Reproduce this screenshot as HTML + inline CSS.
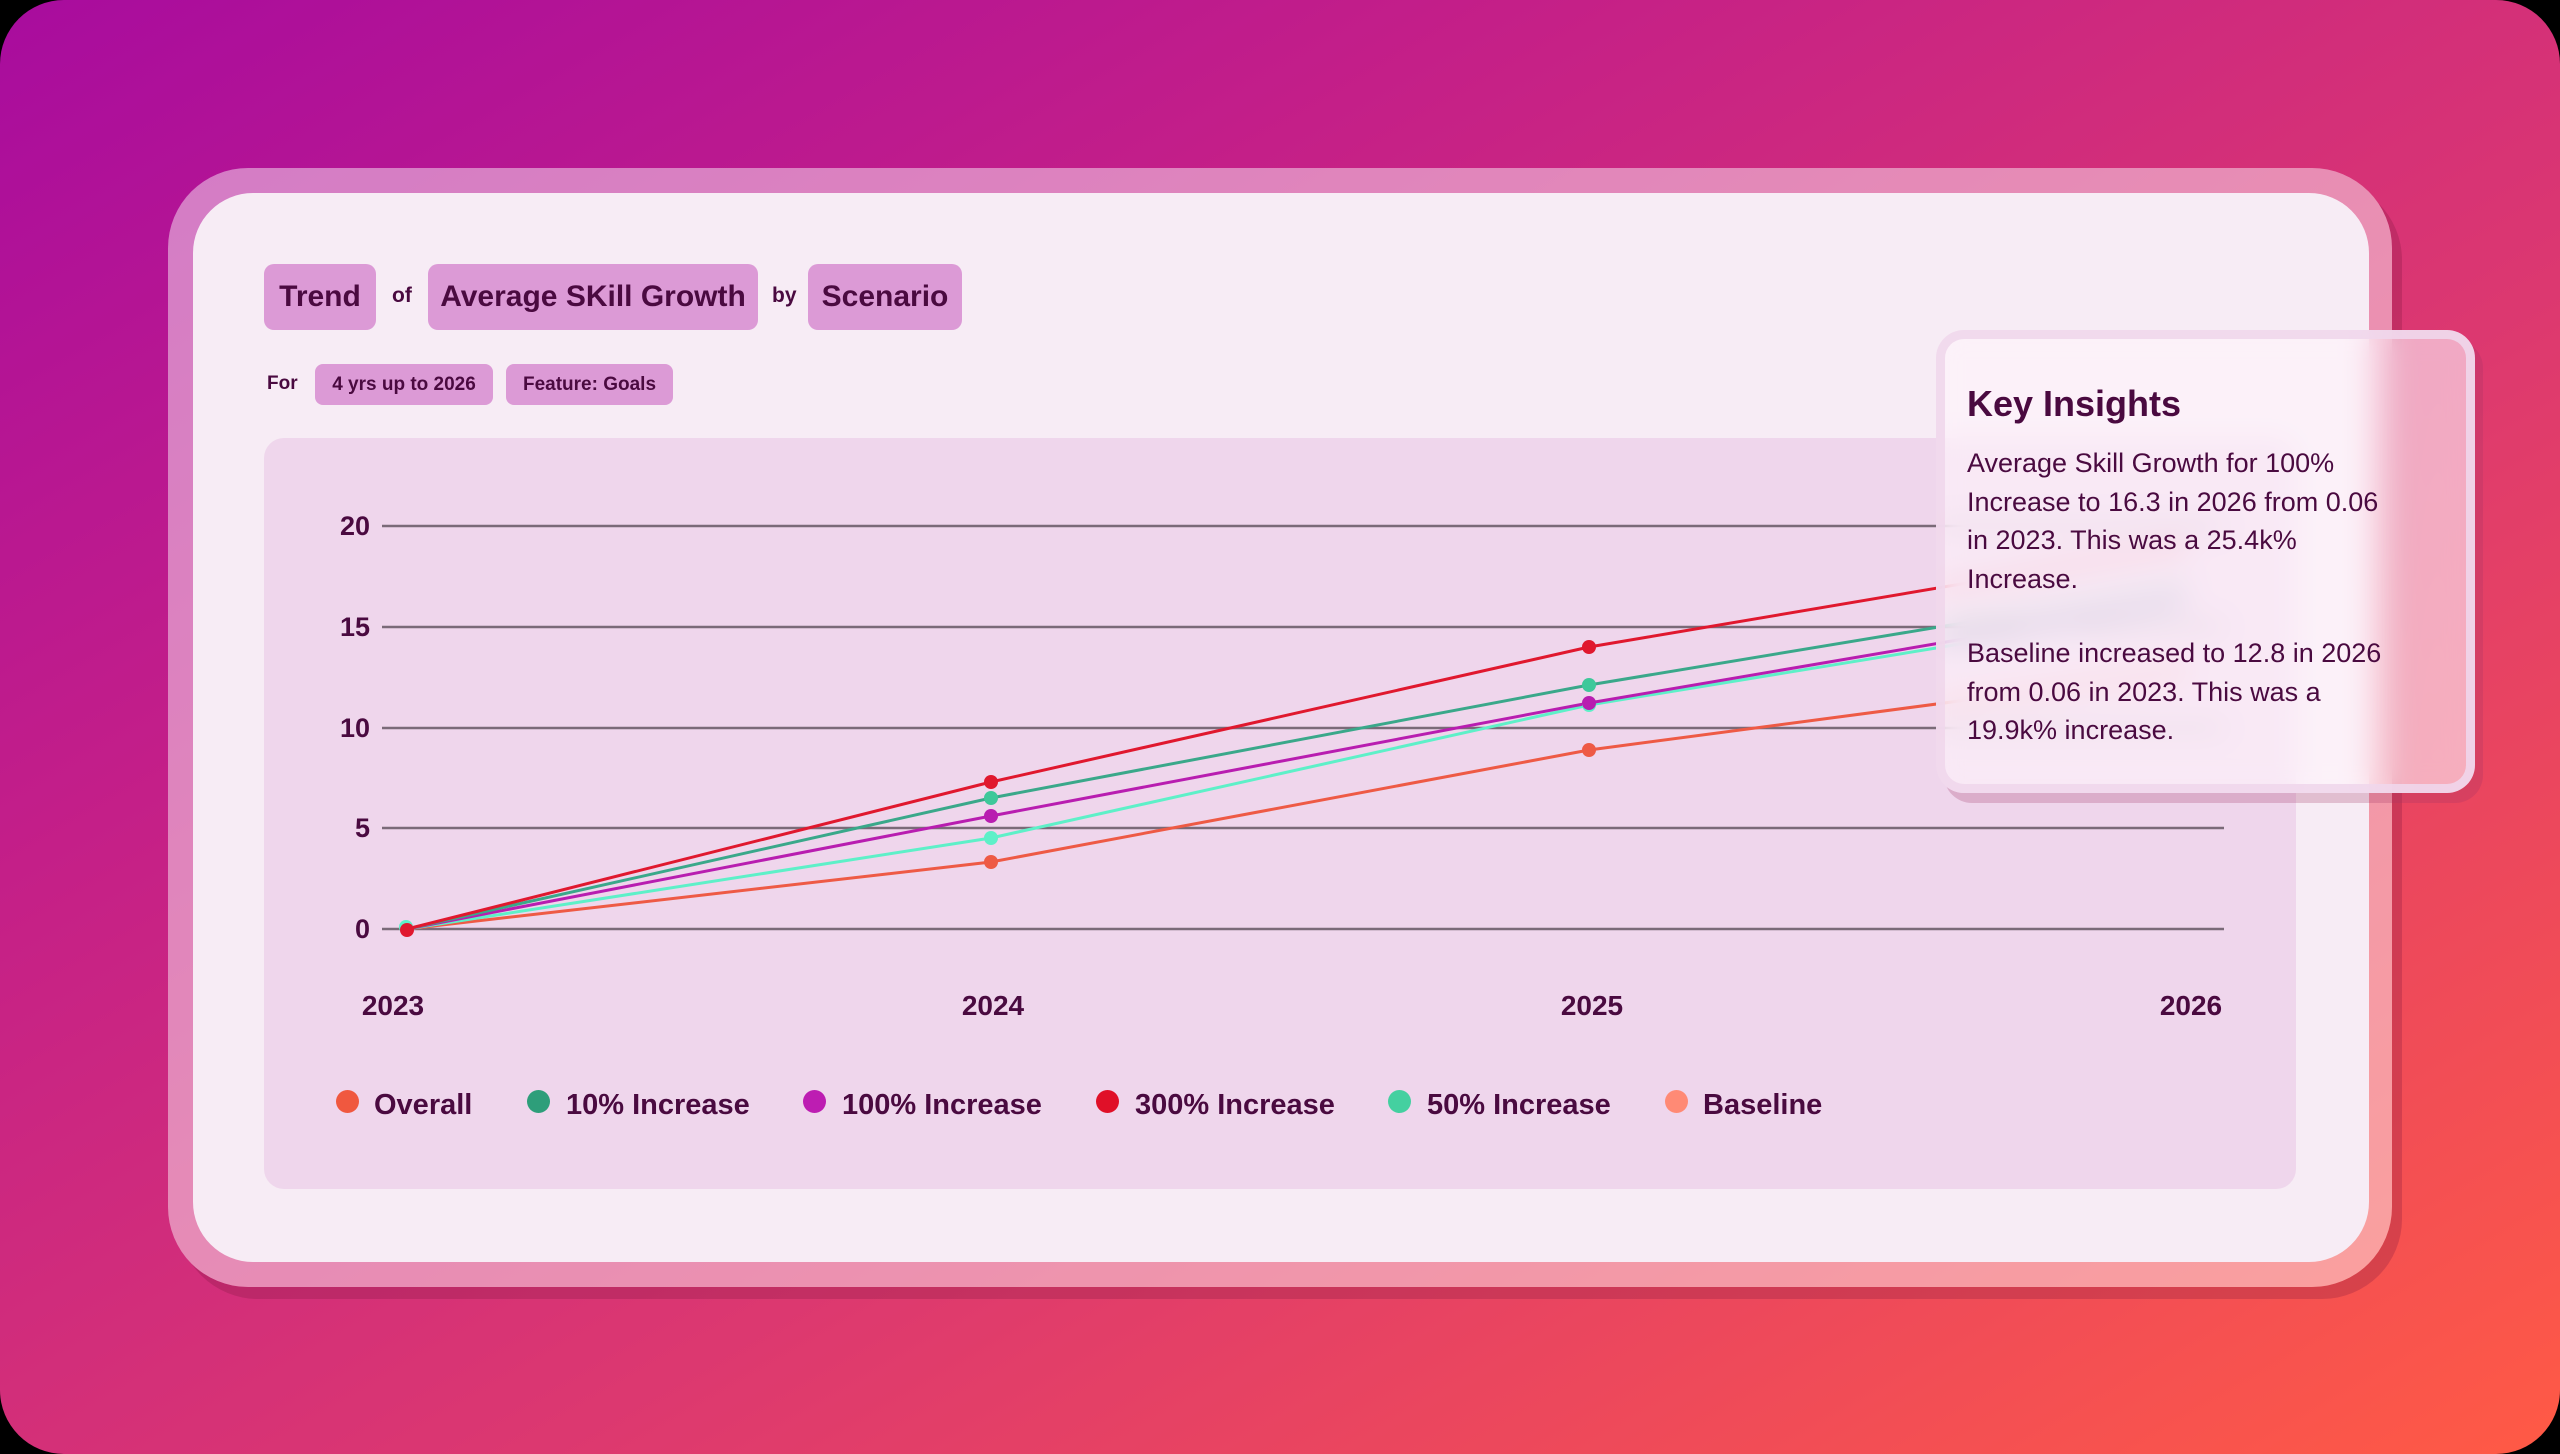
<!DOCTYPE html>
<html><head><meta charset="utf-8"><style>
html,body{margin:0;padding:0;background:#000;}
#root{position:relative;width:2560px;height:1454px;border-radius:64px;overflow:hidden;
background:linear-gradient(150deg,#a80c9e 0%,#c41f88 30%,#dc3870 60%,#ff5a45 100%);
font-family:"Liberation Sans",sans-serif;color:#4a0a40;}
.abs{position:absolute;}
.frame{left:168px;top:168px;width:2224px;height:1119px;border-radius:80px;background:rgba(255,255,255,0.45);box-shadow:10px 12px 0 rgba(120,20,60,0.25);}
.card{left:193px;top:193px;width:2176px;height:1069px;border-radius:60px;background:#f7ecf5;}
.pill{position:absolute;background:#dc9ad6;border-radius:10px;font-weight:bold;display:flex;align-items:center;justify-content:center;}
.big{height:66px;top:264px;font-size:30px;}
.sm{height:41px;top:364px;font-size:19px;border-radius:8px;}
.lbl{position:absolute;font-weight:bold;}
.panel{left:264px;top:438px;width:2032px;height:751px;border-radius:20px;background:#efd6ec;}
.tip{left:1936px;top:330px;width:539px;height:463px;border-radius:28px;box-sizing:border-box;border:9px solid rgba(240,215,235,0.9);
background:rgba(255,245,252,0.6);backdrop-filter:blur(14px);-webkit-backdrop-filter:blur(14px);box-shadow:8px 10px 0 rgba(160,50,100,0.25);}
.tip h2{margin:0;position:absolute;left:22px;top:44px;font-size:36px;font-weight:bold;}
.tip p{margin:0;position:absolute;left:22px;width:520px;font-size:27px;line-height:38.5px;white-space:nowrap;}
.leg{position:absolute;top:1089px;font-size:29px;font-weight:bold;}
.dot{position:absolute;width:23px;height:23px;border-radius:50%;top:1090px;}
</style></head><body><div id="root">
<div class="abs frame"></div>
<div class="abs card"></div>
<div class="pill big" style="left:264px;width:112px;">Trend</div>
<div class="lbl" style="left:392px;top:284px;font-size:21px;">of</div>
<div class="pill big" style="left:428px;width:330px;">Average SKill Growth</div>
<div class="lbl" style="left:772px;top:284px;font-size:21px;">by</div>
<div class="pill big" style="left:808px;width:154px;">Scenario</div>
<div class="lbl" style="left:267px;top:373px;font-size:19px;">For</div>
<div class="pill sm" style="left:315px;width:178px;">4 yrs up to 2026</div>
<div class="pill sm" style="left:506px;width:167px;">Feature: Goals</div>
<div class="abs panel"></div>
<svg class="abs" style="left:0;top:0" width="2560" height="1454">
<g stroke="#7a6a78" stroke-width="2.5">
<line x1="382" x2="2224" y1="526" y2="526"/><line x1="382" x2="2224" y1="627" y2="627"/>
<line x1="382" x2="2224" y1="728" y2="728"/><line x1="382" x2="2224" y1="828" y2="828"/>
<line x1="382" x2="2224" y1="929" y2="929"/></g>
<g font-family="Liberation Sans" font-weight="bold" font-size="27" fill="#4a0a40" text-anchor="end">
<text x="370" y="535">20</text><text x="370" y="636">15</text><text x="370" y="737">10</text><text x="370" y="837">5</text><text x="370" y="938">0</text></g>
<g font-family="Liberation Sans" font-weight="bold" font-size="28" fill="#4a0a40" text-anchor="middle">
<text x="393" y="1015">2023</text><text x="993" y="1015">2024</text><text x="1592" y="1015">2025</text><text x="2191" y="1015">2026</text></g>
<g fill="none" stroke-width="3">
<polyline stroke="#ee5a45" points="407,929 991,862 1589,750 2186,671"/>
<polyline stroke="#5ef0c8" points="407,929 991,838 1589,705 2186,607"/>
<polyline stroke="#b81db0" points="407,929 991,816 1589,703 2186,601"/>
<polyline stroke="#3aa88a" points="407,929 991,798 1589,685 2186,586"/>
<polyline stroke="#e0182e" points="407,929 991,782 1589,647 2186,546"/>
</g>
<g>
<circle cx="991" cy="862" r="7" fill="#ee5a45"/><circle cx="1589" cy="750" r="7" fill="#ee5a45"/>
<circle cx="991" cy="838" r="7" fill="#5ef0c8"/><circle cx="1589" cy="705" r="7" fill="#5ef0c8"/>
<circle cx="991" cy="816" r="7" fill="#b81db0"/><circle cx="1589" cy="703" r="7" fill="#b81db0"/>
<circle cx="991" cy="798" r="7" fill="#3ec89a"/><circle cx="1589" cy="685" r="7" fill="#3ec89a"/>
<circle cx="991" cy="782" r="7" fill="#e0182e"/><circle cx="1589" cy="647" r="7" fill="#e0182e"/>
<circle cx="406" cy="927" r="7" fill="#5ef0c8"/><circle cx="407" cy="930" r="7" fill="#e0182e"/>
</g>
</svg>
<div class="dot" style="left:336px;background:#f0583f"></div><div class="leg" style="left:374px">Overall</div>
<div class="dot" style="left:527px;background:#2e9e7a"></div><div class="leg" style="left:566px">10% Increase</div>
<div class="dot" style="left:803px;background:#bd1db2"></div><div class="leg" style="left:842px">100% Increase</div>
<div class="dot" style="left:1096px;background:#e01028"></div><div class="leg" style="left:1135px">300% Increase</div>
<div class="dot" style="left:1388px;background:#44d0a0"></div><div class="leg" style="left:1427px">50% Increase</div>
<div class="dot" style="left:1665px;background:#ff8a75"></div><div class="leg" style="left:1703px">Baseline</div>
<div class="abs tip">
<h2>Key Insights</h2>
<p style="top:105px">Average Skill Growth for 100%<br>Increase to 16.3 in 2026 from 0.06<br>in 2023. This was a 25.4k%<br>Increase.</p>
<p style="top:295px">Baseline increased to 12.8 in 2026<br>from 0.06 in 2023. This was a<br>19.9k% increase.</p>
</div>
</div></body></html>
